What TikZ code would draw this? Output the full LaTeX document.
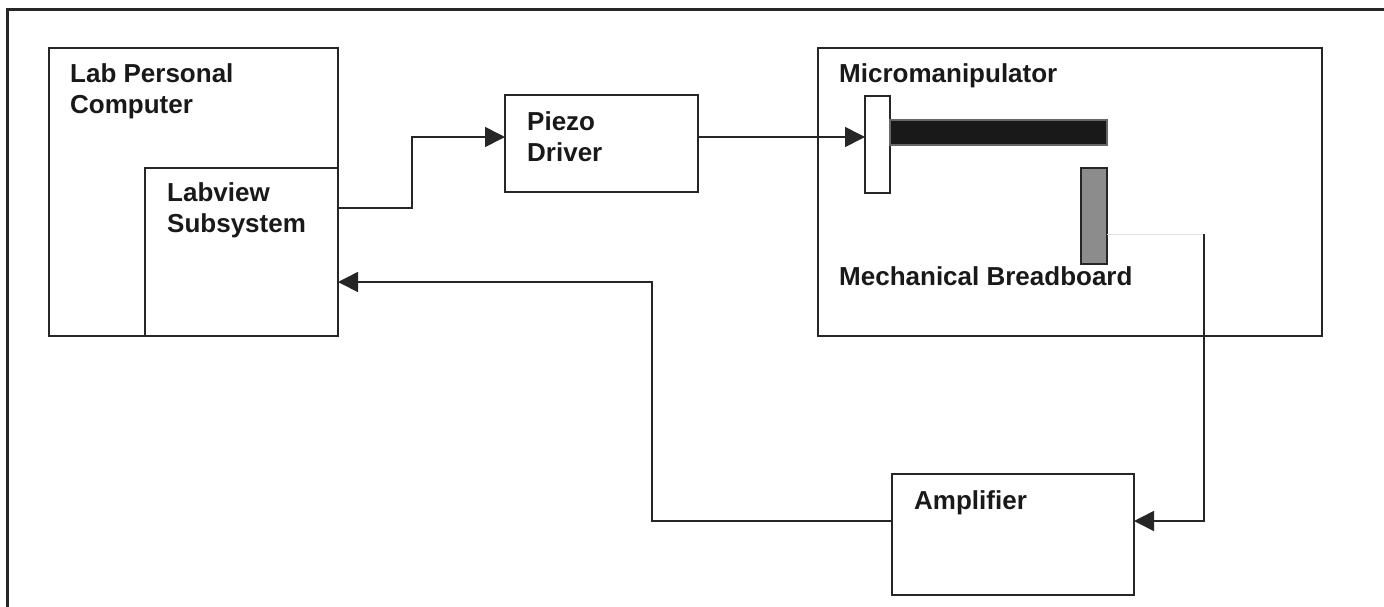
\documentclass[tikz,border=0pt]{standalone}
\usepackage{fontspec}
\setmainfont{Liberation Sans}
\usetikzlibrary{positioning, arrows.meta}

\begin{document}
\begin{tikzpicture}[
    x=1pt, y=-1pt,
    block/.style={draw=black!85, line width=1.6pt, rectangle, inner sep=0pt, outer sep=0pt, anchor=north west},
    boxtext/.style={anchor=base west, align=left, inner sep=0pt, font=\fontsize{26}{31}\selectfont\bfseries, text=black!90},
    signal/.style={-{Triangle[length=20pt, width=20pt]}, line width=1.6pt, draw=black!85}
]
    \useasboundingbox (0,0) rectangle (1384,606);

    % Outer frame
    \draw[line width=3pt, black!85] (7,630) -- (7,9) -- (1400,9);

    % Main blocks
    \node[block, minimum width=289pt, minimum height=288pt] (pc) at (49,48) {};
    \node[block, minimum width=193pt, minimum height=168pt] (lvw) at (145,168) {};
    \node[block, minimum width=193pt, minimum height=97pt] (pzo) at (505,95) {};
    \node[block, minimum width=504pt, minimum height=288pt] (mm) at (818,48) {};
    \node[block, minimum width=242pt, minimum height=121pt] (amp) at (892,474) {};

    % Block titles (base = last line)
    \node[boxtext] (pctxt) at (70,113) {Lab Personal\\Computer};
    \node[boxtext] (lvwtxt) at (167,232) {Labview\\Subsystem};
    \node[boxtext] (pzotxt) at (527,161) {Piezo\\Driver};
    \node[boxtext] (mmtxt) at (839,82) {Micromanipulator};
    \node[boxtext] (mbtxt) at (839,285) {Mechanical Breadboard};
    \node[boxtext] (amptxt) at (914,509) {Amplifier};

    % Clamp, beam and probe
    \node[block, fill=white, minimum width=25pt, minimum height=97pt] (clamp) at (865,96) {};
    \node[block, draw=black!60, fill=black!90, minimum width=217pt, minimum height=25pt] (beam) at (890,120) {};
    \node[block, fill=black!45, minimum width=26pt, minimum height=96pt] (probe) at (1081,168) {};
    \coordinate (bend) at (1204,234);

    % Signal path
    \draw[signal] (lvw.east |- 0,208) -| (412,137) -- (pzo.west |- 0,137);
    \draw[signal] (pzo.east |- 0,137) -- (clamp.west |- 0,137);
    \draw[black!12, line width=1pt] (probe.east |- bend) -- (bend);
    \draw[signal] (bend) |- (amp.east |- 0,521);
    \draw[signal] (amp.west |- 0,521) -| (652,282) -- (lvw.east |- 0,282);
\end{tikzpicture}
\end{document}
